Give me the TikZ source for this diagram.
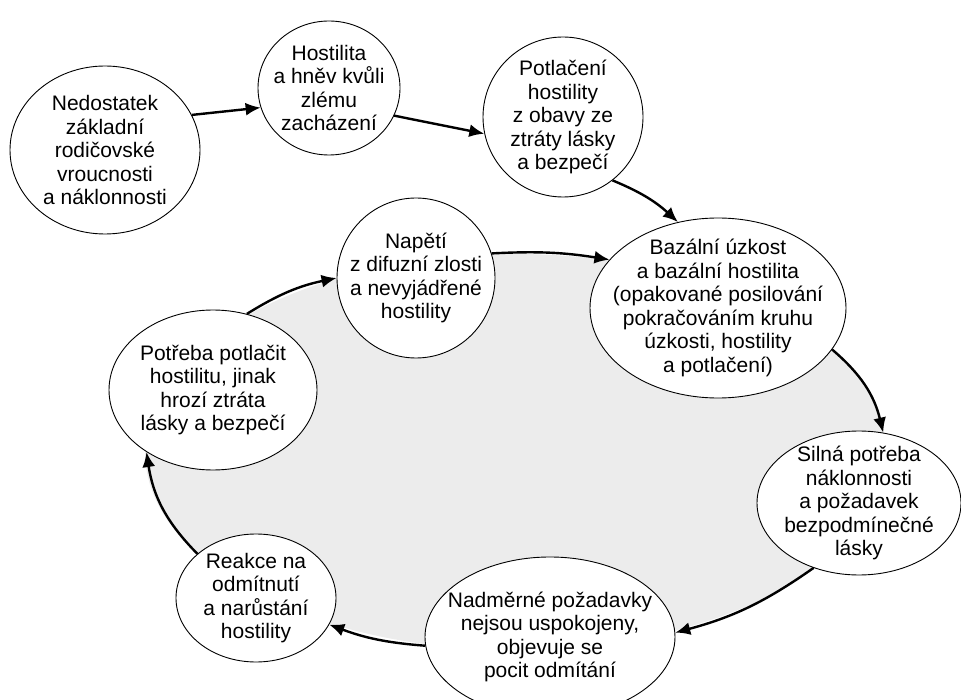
\documentclass[tikz,border=0pt]{standalone}
\usepackage{fontspec}
\setmainfont{Liberation Sans}
\usepackage{tikz}
\usetikzlibrary{shapes,arrows.meta}
\definecolor{cyclegray}{RGB}{236,236,236}

\begin{document}
\begin{tikzpicture}[x=1pt, y=-1pt, >={Latex[length=15pt,width=13pt]}]
			\tikzstyle{Bubble}	= [ellipse, draw, fill=white, line width=0.9pt, inner sep=-50pt, align=center, font=\fontsize{21}{23.5}\selectfont]
			\tikzstyle{Arrow}	= [line width=2.4pt, black]

			\useasboundingbox (0,0) rectangle (961,700);
			\clip (0,0) rectangle (961,700);
			\fill [cyclegray] (515,452) ellipse [x radius=370, y radius=198];

			\node (nedostatek) at (105,150) [Bubble, minimum width=190pt, minimum height=168pt] {Nedostatek\\základní\\rodičovské\\vroucnosti\\a náklonnosti};
			\node (hostilita) at (329,88) [Bubble, minimum width=142pt, minimum height=134pt] {Hostilita\\a hněv kvůli\\zlému\\zacházení};
			\node (potlaceni) at (563,117) [Bubble, minimum width=160pt, minimum height=160pt] {Potlačení\\hostility\\z obavy ze\\ztráty lásky\\a bezpečí};
			\node (bazalni) at (718,308) [Bubble, minimum width=256pt, minimum height=180pt] {Bazální úzkost\\a bazální hostilita\\(opakované posilování\\pokračováním kruhu\\úzkosti, hostility\\a potlačení)};
			\node (silna) at (859,503) [Bubble, minimum width=204pt, minimum height=144pt] {Silná potřeba\\náklonnosti\\a požadavek\\bezpodmínečné\\lásky};
			\node (nadmerne) at (550,637) [Bubble, minimum width=250pt, minimum height=160pt] {Nadměrné požadavky\\nejsou uspokojeny,\\objevuje se\\pocit odmítání};
			\node (reakce) at (256,598) [Bubble, minimum width=160pt, minimum height=128pt] {Reakce na\\odmítnutí\\a narůstání\\hostility};
			\node (potreba) at (213,390) [Bubble, minimum width=208pt, minimum height=160pt] {Potřeba potlačit\\hostilitu, jinak\\hrozí ztráta\\lásky a bezpečí};
			\node (napeti) at (416,278) [Bubble, minimum width=158pt, minimum height=160pt] {Napětí\\z difuzní zlosti\\a nevyjádřené\\hostility};

			\draw [->] (nedostatek.22) to (hostilita.196) [Arrow];
			\draw [->] (hostilita.-23) to (potlaceni.192) [Arrow];
			\draw [->] (potlaceni.-52) to [bend left=10] (bazalni.115) [Arrow];
			\draw [->] (napeti.18) to [bend left=6] (bazalni.156) [Arrow];
			\draw [->] (bazalni.-20) to [bend left=18] (silna.71) [Arrow];
			\draw [->] (silna.235) to [bend left=10] (nadmerne.2) [Arrow];
			\draw [->] (nadmerne.184) to [bend left=8] (reakce.-20) [Arrow];
			\draw [->] (reakce.143) to [bend left=18] (potreba.223) [Arrow];
			\draw [->] (potreba.66) to [bend left=10] (napeti.180) [Arrow];
		\end{tikzpicture}
\end{document}
